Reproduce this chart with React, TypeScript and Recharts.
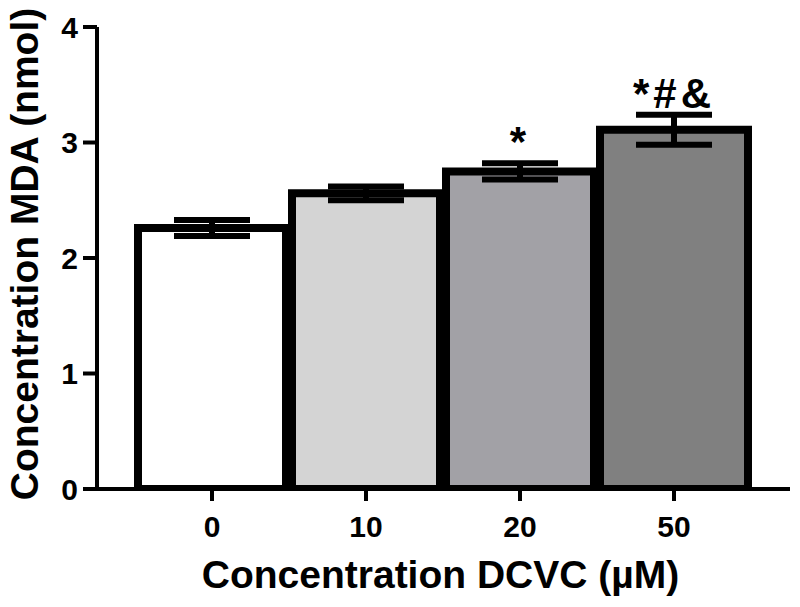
import React from 'react';
import { BarChart, Bar, XAxis, YAxis, ErrorBar, Cell, LabelList } from 'recharts';

const categories = ['0', '10', '20', '50'];
const means = [2.26, 2.56, 2.75, 3.11];
const errors = [0.07, 0.06, 0.07, 0.13];
const significance = ['', '', '*', '*#&'];
const yTicks = [0, 1, 2, 3, 4];

const barColors = ['#ffffff', '#d4d4d4', '#a2a1a6', '#808080'];
const FONT = '"Liberation Sans", Arial, Helvetica, sans-serif';

const data = categories.map((c, i) => ({ name: c, mean: means[i], err: errors[i], sig: significance[i] }));

const SigLabel = (props: any) => {
  const { x, y, width, height, index, value } = props;
  if (!value) return null;
  const pxPerUnit = height / means[index];
  const capY = y - errors[index] * pxPerUnit;
  return (
    <text
      x={x + width / 2}
      y={capY - 7}
      textAnchor="middle"
      fontFamily={FONT}
      fontWeight="bold"
      fontSize={42}
      letterSpacing={4}
      fill="#000"
    >
      {value}
    </text>
  );
};

const YLabel = (props: any) => {
  const vb = props.viewBox;
  const cx = vb.x + 24;
  const cy = vb.y + vb.height / 2 - 4;
  return (
    <text
      x={cx}
      y={cy}
      transform={`rotate(-90 ${cx} ${cy})`}
      textAnchor="middle"
      dominantBaseline="central"
      fontFamily={FONT}
      fontWeight="bold"
      fontSize={39}
      fill="#000"
    >
      Concentration MDA (nmol)
    </text>
  );
};

const XLabel = (props: any) => {
  const vb = props.viewBox;
  return (
    <text
      x={vb.x + vb.width / 2 - 3}
      y={vb.y + 99}
      textAnchor="middle"
      fontFamily={FONT}
      fontWeight="bold"
      fontSize={39}
      fill="#000"
    >
      Concentration DCVC (µM)
    </text>
  );
};

export default function App() {
  return (
    <div style={{ position: 'absolute', left: 0, top: 0, width: 800, height: 607, background: '#fff' }}>
      <BarChart
        width={800}
        height={607}
        data={data}
        margin={{ top: 27, right: 10, bottom: 0, left: 0 }}
        barCategoryGap={3}
      >
        <XAxis
          dataKey="name"
          height={118}
          padding={{ left: 38, right: 39 }}
          axisLine={{ stroke: '#000', strokeWidth: 4 }}
          tickLine={{ stroke: '#000', strokeWidth: 4 }}
          tickSize={12}
          tickMargin={15}
          tick={{ fill: '#000', fontFamily: FONT, fontWeight: 'bold', fontSize: 30 }}
          label={<XLabel />}
        />
        <YAxis
          width={97}
          domain={[0, 4]}
          ticks={yTicks}
          allowDataOverflow
          axisLine={{ stroke: '#000', strokeWidth: 4 }}
          tickLine={{ stroke: '#000', strokeWidth: 4 }}
          tickSize={14}
          tickMargin={5}
          tick={{ fill: '#000', fontFamily: FONT, fontWeight: 'bold', fontSize: 30 }}
          label={<YLabel />}
        />
        <Bar dataKey="mean" stroke="#000" strokeWidth={8} isAnimationActive={false}>
          {data.map((d, i) => (
            <Cell key={d.name} fill={barColors[i]} />
          ))}
          <ErrorBar dataKey="err" width={38} stroke="#000" strokeWidth={6} isAnimationActive={false} />
          <LabelList dataKey="sig" content={<SigLabel />} />
        </Bar>
      </BarChart>
    </div>
  );
}
